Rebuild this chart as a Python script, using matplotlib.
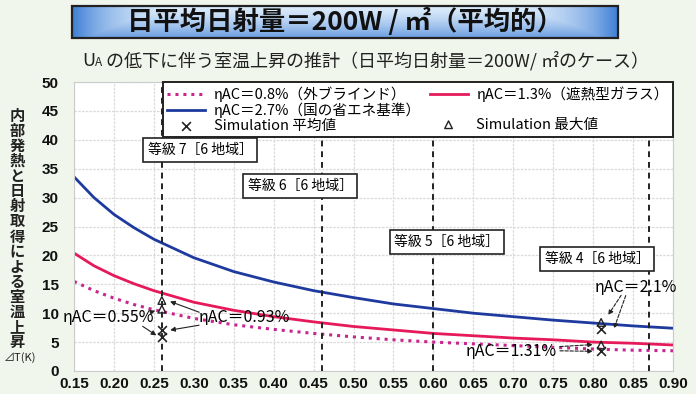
import numpy as np
import matplotlib
matplotlib.use('Agg')
import matplotlib.pyplot as plt
from matplotlib.lines import Line2D
from matplotlib.patches import Rectangle

plt.rcParams['font.family'] = ['Noto Sans CJK JP', 'DejaVu Sans']
JP = ['Noto Sans CJK JP', 'DejaVu Sans']

# UA value (x axis) and room temperature rise dT(K)
ua = [0.15, 0.175, 0.20, 0.225, 0.25, 0.30, 0.35, 0.40, 0.45, 0.50,
      0.55, 0.60, 0.65, 0.70, 0.75, 0.80, 0.85, 0.90]
dt_08 = [15.5, 13.9, 12.6, 11.5, 10.6, 9.1, 8.0, 7.2, 6.5, 5.9,
         5.4, 5.0, 4.7, 4.4, 4.1, 3.8, 3.6, 3.5]
dt_13 = [20.4, 18.2, 16.5, 15.1, 13.9, 11.9, 10.5, 9.4, 8.5, 7.7,
         7.1, 6.5, 6.1, 5.7, 5.4, 5.0, 4.8, 4.5]
dt_27 = [33.6, 30.0, 27.1, 24.8, 22.8, 19.6, 17.2, 15.4, 13.9, 12.7,
         11.6, 10.8, 10.0, 9.4, 8.8, 8.3, 7.8, 7.4]

# simulation results (eta_AC = 0.55%, 0.93%, 1.31%, 2.1%)
sim_ua = [0.26, 0.26, 0.81, 0.81]
sim_avg = [5.9, 7.1, 3.5, 7.3]
sim_max = [10.7, 12.2, 4.5, 8.4]

grade_ua = [0.26, 0.46, 0.60, 0.87]
grade_labels = ['等級 7［6 地域］', '等級 6［6 地域］', '等級 5［6 地域］', '等級 4［6 地域］']
grade_pos = [(0.308, 38.2), (0.433, 32.0), (0.617, 22.3), (0.805, 19.4)]

xticks = [0.15, 0.20, 0.25, 0.30, 0.35, 0.40, 0.45, 0.50, 0.55, 0.60,
          0.65, 0.70, 0.75, 0.80, 0.85, 0.90]
yticks = [0, 5, 10, 15, 20, 25, 30, 35, 40, 45, 50]

fig = plt.figure(figsize=(6.96, 3.94), dpi=100)
fig.patch.set_facecolor('#f1f6ec')

# title box with gradient
tax = fig.add_axes([72/696, 1-38/394, (618-72)/696, 32/394])
v = np.linspace(0, 1, 60)[:, None]
h = np.abs(np.linspace(-1, 1, 300))[None, :] ** 5
f = np.clip(np.maximum(0.10 + 0.65 * v ** 1.4, h), 0, 1)
light = np.array([0.93, 0.97, 1.0])
blue = np.array([0.25, 0.50, 0.84])
img = light[None, None, :] * (1 - f[..., None]) + blue[None, None, :] * f[..., None]
tax.imshow(img, aspect='auto', extent=[0, 1, 0, 1])
tax.set_xlim(0, 1)
tax.set_ylim(0, 1)
tax.axis('off')
tax.add_patch(Rectangle((0, 0), 1, 1, fill=False, ec='#222222', lw=1.6, transform=tax.transAxes, clip_on=False))
tax.text(0.5, 0.5, '日平均日射量＝200W / ㎡（平均的）', ha='center', va='center',
         fontsize=19, fontweight='bold', color='#111111', family=JP)

# subtitle: U with subscript A
t1 = fig.text(82/696, 1-66/394, 'U', fontsize=13, va='baseline', family=JP, color='#222222')
t2 = fig.text(0, 0, 'A', fontsize=8.5, va='baseline', family=JP, color='#222222')
t3 = fig.text(0, 0, ' の低下に伴う室温上昇の推計（日平均日射量＝200W/ ㎡のケース）',
              fontsize=13, va='baseline', family=JP, color='#222222')
fig.canvas.draw()
r = fig.canvas.get_renderer()
bb = t1.get_window_extent(r)
t2.set_position((bb.x1 / fig.bbox.width, 1-66/394))
fig.canvas.draw()
bb = t2.get_window_extent(r)
t3.set_position((bb.x1 / fig.bbox.width, 1-66/394))

ax = fig.add_axes([74/696, 23/394, 599/696, 289/394])
ax.set_facecolor('white')
ax.plot(ua, dt_08, color='#c8268f', lw=2.2, linestyle=(0, (1, 1.6)), label='ηAC＝0.8%（外ブラインド）')
ax.plot(ua, dt_27, color='#1e3a9e', lw=2, label='ηAC＝2.7%（国の省エネ基準）')
ax.plot(ua, dt_13, color='#e6195a', lw=2, label='ηAC＝1.3%（遮熱型ガラス）')
ax.scatter(sim_ua, sim_avg, marker='x', s=40, color='#222222', lw=1.2, zorder=5, label='Simulation 平均値')
ax.scatter(sim_ua, sim_max, marker='^', s=30, facecolor='none', edgecolor='#222222', lw=1.0, zorder=5,
           label='Simulation 最大値')

for g in grade_ua:
    ax.axvline(g, color='#222222', lw=1.4, linestyle=(0, (3, 2.5)), zorder=3)
for lab, (gx, gy) in zip(grade_labels, grade_pos):
    ax.text(gx, gy, lab, ha='center', va='center', fontsize=10, family=JP, zorder=6,
            bbox=dict(boxstyle='square,pad=0.35', fc='white', ec='#222222', lw=1.2))

ax.set_xlim(0.15, 0.90)
ax.set_ylim(0, 50)
ax.set_xticks(xticks)
ax.set_yticks(yticks)
ax.set_xticklabels([f'{t:.2f}' for t in xticks], family='Liberation Sans', fontweight='bold', fontsize=11)
ax.set_yticklabels([str(t) for t in yticks], family='Liberation Sans', fontweight='bold', fontsize=11)
ax.tick_params(axis='x', length=0, pad=4, colors='#111111')
ax.tick_params(axis='y', length=0, pad=11, colors='#111111')
ax.grid(True, color='#dadada', lw=0.9, linestyle=(0, (2, 1)))
ax.set_axisbelow(True)
for s in ax.spines.values():
    s.set_color('#cccccc')

# annotations
akw = dict(arrowstyle='-|>', color='#222222', lw=0.8, mutation_scale=7)
akd = dict(arrowstyle='-|>', color='#222222', lw=0.8, mutation_scale=7, linestyle=(0, (3, 1.5)))
ax.text(0.136, 9.3, 'ηAC＝0.55%', ha='left', va='center', fontsize=11.5, family=JP, zorder=7, clip_on=False)
ax.annotate('', xy=(0.255, 10.6), xytext=(0.243, 10.0), arrowprops=akw, zorder=7)
ax.annotate('', xy=(0.256, 5.9), xytext=(0.233, 8.0), arrowprops=akw, zorder=7)
ax.text(0.363, 9.2, 'ηAC＝0.93%', ha='center', va='center', fontsize=11.5, family=JP, zorder=7)
ax.annotate('', xy=(0.267, 12.2), xytext=(0.31, 10.0), arrowprops=akw, zorder=7)
ax.annotate('', xy=(0.267, 7.0), xytext=(0.31, 8.0), arrowprops=akw, zorder=7)
ax.text(0.854, 14.5, 'ηAC＝2.1%', ha='center', va='center', fontsize=11.5, family=JP, zorder=7)
ax.annotate('', xy=(0.817, 9.3), xytext=(0.837, 13.5), arrowprops=akd, zorder=7)
ax.annotate('', xy=(0.825, 6.9), xytext=(0.842, 13.5), arrowprops=akd, zorder=7)
ax.text(0.698, 3.3, 'ηAC＝1.31%', ha='center', va='center', fontsize=11.5, family=JP, zorder=7)
ax.annotate('', xy=(0.803, 4.6), xytext=(0.755, 4.2), arrowprops=akd, zorder=7)
ax.annotate('', xy=(0.803, 3.4), xytext=(0.755, 3.5), arrowprops=akd, zorder=7)

# legend: two columns, blank slot under the red line
hs, ls = ax.get_legend_handles_labels()
blank = Line2D([], [], linestyle='none')
order = [hs[0], hs[1], hs[3], hs[2], blank, hs[4]]
labs = [ls[0], ls[1], ls[3], ls[2], '', ls[4]]
leg = ax.legend(order, labs, ncol=2, loc='upper right', bbox_to_anchor=(1.0, 1.0),
                prop={'family': JP, 'size': 10.5}, frameon=True, fancybox=False,
                edgecolor='#222222', framealpha=1, borderpad=0.3, labelspacing=0.05,
                handlelength=2.6, handletextpad=0.6, columnspacing=0.6, borderaxespad=0)
leg.get_frame().set_linewidth(1.4)
leg.set_zorder(10)

# vertical y label
ylab = '内部発熱と日射取得による室温上昇'
fig.text(17/696, 1-229/394, '\n'.join(ylab), ha='center', va='center', fontsize=11,
         fontweight='bold', linespacing=0.93, family=JP, color='#222222')
fig.text(20/696, 1-358/394, '⊿T(K)', ha='center', va='center', fontsize=8, family=JP, color='#222222')

fig.savefig('out.png', dpi=100, facecolor=fig.get_facecolor())
